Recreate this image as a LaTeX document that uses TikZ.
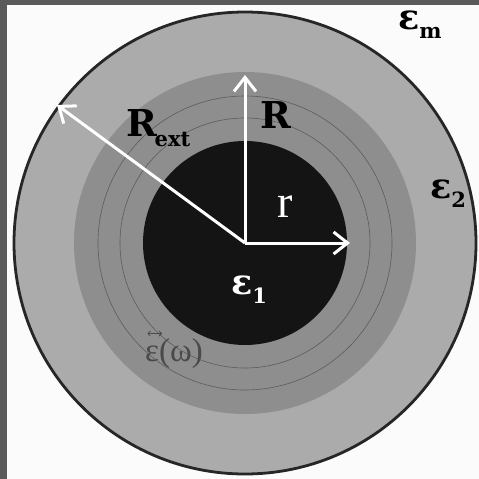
\documentclass[tikz,border=0pt]{standalone}
\usepackage{fontspec}
\setmainfont{DejaVu Serif}
\newfontfamily\lblfont{DejaVu Serif}
\newfontfamily\rfont{Liberation Serif}
\usetikzlibrary{arrows.meta}
\definecolor{frame}{HTML}{5A5A5A}
\definecolor{bgw}{HTML}{FBFBFB}
\definecolor{outerg}{HTML}{ABABAB}
\definecolor{midg}{HTML}{8E8E8E}
\definecolor{core}{HTML}{141414}
\definecolor{ringl}{HTML}{5C5C5C}
\definecolor{epsg}{HTML}{4A4A4A}
\tikzset{
  radarrow/.style={draw=white, line width=3pt, -{Straight Barb[length=14pt,width=22pt,line width=3pt]}},
  lbl/.style={anchor=base west, inner sep=0pt, font=\lblfont\bfseries\fontsize{37}{37}\selectfont},
  eps/.style={anchor=base west, inner sep=0pt, font=\lblfont\bfseries\fontsize{35}{35}\selectfont},
  tensorarrow/.style={draw=epsg, line width=0.7pt, {Straight Barb[length=2.5pt,width=5.5pt]}-{Straight Barb[length=2.5pt,width=5.5pt]}},
}
\newcommand{\sub}[1]{\raisebox{-0.28em}{\fontsize{21}{21}\selectfont #1}}
\begin{document}
\begin{tikzpicture}[x=1pt,y=-1pt]
\useasboundingbox (0,0) rectangle (479,479);
\fill[frame] (0,0) rectangle (479,479);
\fill[bgw] (7,5) rectangle (479,479);
\coordinate (O) at (245,243);
% discs
\filldraw[fill=outerg, draw=black!85, line width=2.8pt] (O) circle[radius=231];
\fill[midg] (O) circle[radius=171];
\draw[ringl, line width=0.6pt] (O) circle[radius=147];
\draw[ringl, line width=0.6pt] (O) circle[radius=125];
\fill[core] (O) circle[radius=102];
% arrow ends
\coordinate (Pext) at (57,105);
\coordinate (PR) at (245,75);
\coordinate (Pr) at (350,243);
\draw[radarrow] (O) -- (Pext);
\draw[radarrow] (O) -- (PR);
\draw[radarrow] (O) -- (Pr);
% labels
\node[lbl] (lRext) at (126,136) {R\hspace{-0.06em}\sub{ext}};
\node[lbl] (lR) at (260,128) {R};
\node[anchor=base west, inner sep=0pt, text=white, font=\rfont\fontsize{46}{46}\selectfont] (lr) at (277,217) {r};
\node[eps, text=white] (le1) at (231,294) {ε\sub{1}};
\node[eps] (le2) at (430,198) {ε\sub{2}};
\node[eps] (lem) at (398,29) {ε\sub{m}};
\node[anchor=base west, inner sep=0pt, text=epsg, font=\rfont\fontsize{33}{33}\selectfont] (lew) at (145,361)
  {ε(ω)};
% double arrow accent over the epsilon
\coordinate (accL) at (147.5,333.5);
\coordinate (accR) at (162,333.5);
\draw[tensorarrow] (accL) -- (accR);
\end{tikzpicture}
\end{document}
